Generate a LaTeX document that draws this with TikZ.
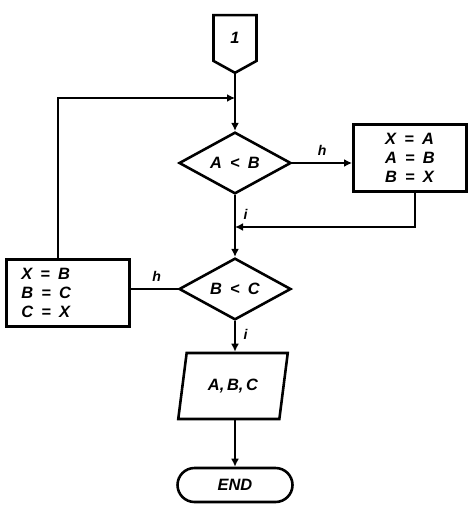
\documentclass[tikz,border=0pt]{standalone}
\usepackage{fontspec}
\setsansfont{Liberation Sans}
\usetikzlibrary{shapes.geometric, shapes.symbols, shapes.misc, arrows.meta, positioning, calc}

\tikzset{
  base/.style={draw, line width=2.2pt, font=\fontsize{14}{16}\selectfont\sffamily\bfseries\itshape, inner sep=0pt},
  decision/.style={base, diamond, minimum width=3.36cm, minimum height=1.85cm},
  procbox/.style={base, rectangle, minimum width=3.4cm, minimum height=2cm, align=left},
  iobox/.style={base, trapezium, trapezium left angle=72, trapezium right angle=108, trapezium stretches=true, minimum width=3.3cm, minimum height=1.98cm},
  termbox/.style={base, rounded rectangle, minimum width=3.45cm, minimum height=1.02cm},
  connbox/.style={base, signal, signal to=south, signal pointer angle=122, minimum width=1.29cm, minimum height=1.45cm},
  flow/.style={line width=2pt, -{Latex[length=2.4mm,width=2.4mm]}},
  line/.style={line width=2pt},
  tag/.style={font=\fontsize{12}{12}\selectfont\sffamily\bfseries\itshape}
}
\newcommand{\sete}{\enspace=\enspace}

\begin{document}
\begin{tikzpicture}[x=0.03cm, y=-0.03cm]
  \useasboundingbox[fill=white] (0,0) rectangle (472,511);

  % main column
  \node[connbox] (con) at (235,38) {1};
  \node[decision] (d1) at (235,163) {A\enspace<\enspace B};
  \node[decision] (d2) at (235,289) {B\enspace<\enspace C};
  \node[iobox] (out) at (233,386) {A,\,B,\,C};
  \node[termbox] (end) at (235,485) {END};

  % swap boxes
  \node[procbox] (sw1) at (410,158) {X\sete A\\A\sete B\\B\sete X};
  \node[procbox, anchor=west, text width=2.8cm, minimum width=3.24cm, inner xsep=0.45cm] (sw2) at (5,293) {X\sete B\\B\sete C\\C\sete X};

  % junctions on the main line
  \coordinate (j1) at (235,98);
  \coordinate (j2) at (235,227);

  \draw[line] (con.south) -- (j1);
  \draw[flow] (j1) -- (d1.north);
  \draw[flow] (d1.east) -- node[tag, above=2pt] {h} (d1.east -| sw1.west);
  \draw[flow] (sw1.south -| 415,0) |- (j2);
  \draw[line] (d1.south) -- node[tag, pos=0.6, right=3pt] {i} (j2);
  \draw[flow] (j2) -- (d2.north);
  \draw[line] (d2.west) -- node[tag, pos=0.45, above=2pt] {h} (d2.west -| sw2.east);
  \draw[flow] (sw2.north -| 58,0) |- (j1);
  \draw[flow] (d2.south) -- node[tag, pos=0.45, right=3pt] {i} (d2.south |- out.north);
  \draw[flow] (d2.south |- out.south) -- (end.north);
\end{tikzpicture}
\end{document}
